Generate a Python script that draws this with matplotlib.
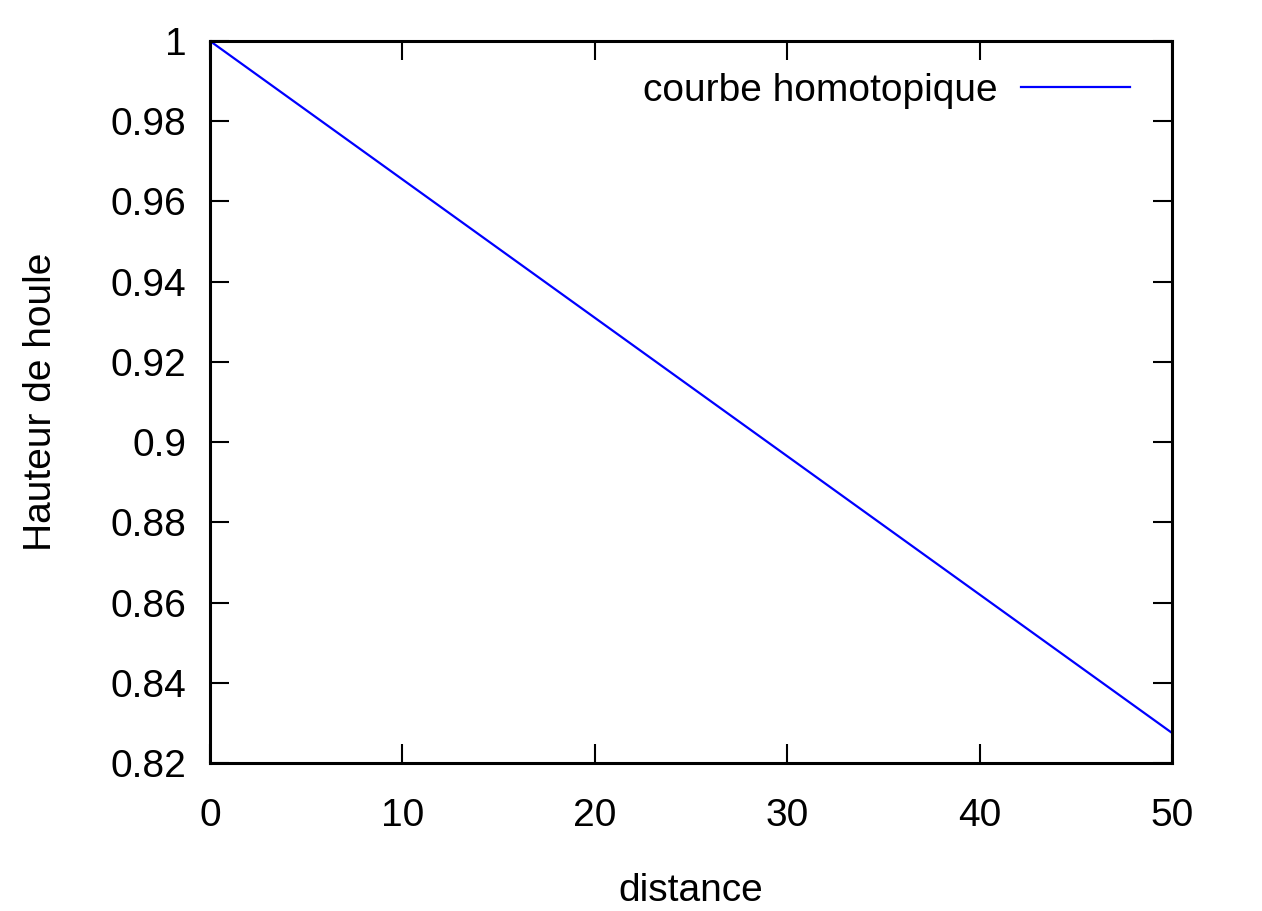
import matplotlib
matplotlib.use("Agg")
import matplotlib.pyplot as plt

# values
distance = [0, 10, 20, 30, 40, 50]
hauteur = [1.0, 0.9655, 0.931, 0.8965, 0.862, 0.8275]
x_ticks = [0, 10, 20, 30, 40, 50]
y_ticks = [0.82, 0.84, 0.86, 0.88, 0.9, 0.92, 0.94, 0.96, 0.98, 1.0]
y_tick_labels = ["0.82", "0.84", "0.86", "0.88", "0.9", "0.92", "0.94", "0.96", "0.98", "1"]

plt.rcParams["font.family"] = ["Liberation Sans", "DejaVu Sans"]
plt.rcParams["font.size"] = 28

W, H = 1262, 911
fig = plt.figure(figsize=(W / 100, H / 100), dpi=100)
ax = fig.add_axes([210 / W, 1 - 763 / H, (1172 - 210) / W, (763 - 41) / H])

ax.plot(distance, hauteur, color="#0000ff", linewidth=1.6, label="courbe homotopique")

ax.set_xlim(0, 50)
ax.set_ylim(0.82, 1.0)
ax.set_xticks(x_ticks)
ax.set_yticks(y_ticks)
ax.set_yticklabels(y_tick_labels)
ax.tick_params(direction="in", length=14, width=1.5, top=True, right=True)
ax.tick_params(axis="x", pad=25)
ax.tick_params(axis="y", pad=17)
for spine in ax.spines.values():
    spine.set_linewidth(2.2)

ax.set_xlabel("distance", labelpad=28)
ax.set_ylabel("Hauteur de houle", labelpad=37)

ax.legend(loc="upper right", bbox_to_anchor=(1130 / W, 1 - 73 / H),
          bbox_transform=fig.transFigure, frameon=False, markerfirst=False,
          borderaxespad=0, borderpad=0, handlelength=2.8, handletextpad=0.6)

fig.savefig("out.png", dpi=100)
